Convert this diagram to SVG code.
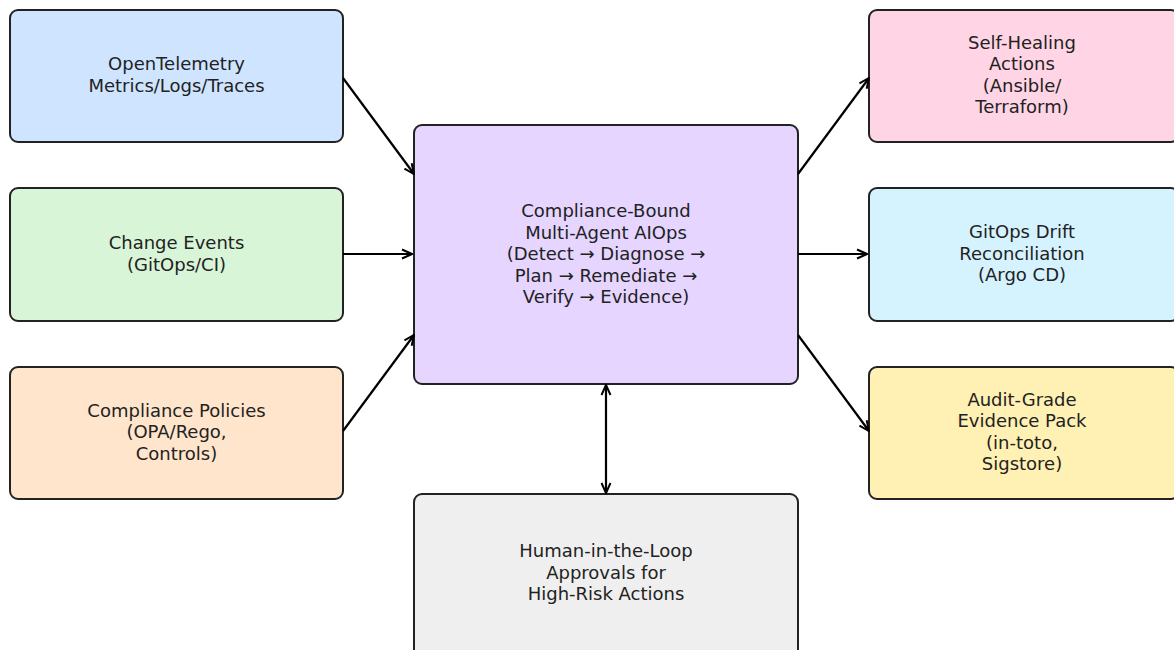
<svg xmlns="http://www.w3.org/2000/svg" width="1174" height="650" viewBox="0 0 1174 650">
<style>
.box{stroke:#222;stroke-width:2;}
.t{font-family:"DejaVu Sans",sans-serif;font-size:18px;fill:#222;text-anchor:middle;}
.c{stroke:#000;stroke-width:2.2;fill:none;}
</style>
<defs>
<marker id="ah" viewBox="0 0 12 12" refX="11" refY="6" markerWidth="12" markerHeight="12" markerUnits="userSpaceOnUse" orient="auto-start-reverse">
<path d="M1,1.5 L11,6 L1,10.5" fill="none" stroke="#000" stroke-width="2"/>
</marker>
</defs>
<rect width="1174" height="650" fill="#fff"/>
<g id="n-otel">
<rect class="box" x="10" y="10" width="333" height="132" rx="8" fill="#cfe5ff"/>
<text class="t" x="176.5" y="70">OpenTelemetry</text>
<text class="t" x="176.5" y="91.5">Metrics/Logs/Traces</text>
</g>
<g id="n-change">
<rect class="box" x="10" y="188" width="333" height="133" rx="8" fill="#d9f5d7"/>
<text class="t" x="176.5" y="249">Change Events</text>
<text class="t" x="176.5" y="270.5">(GitOps/CI)</text>
</g>
<g id="n-policies">
<rect class="box" x="10" y="367" width="333" height="132" rx="8" fill="#ffe5cc"/>
<text class="t" x="176.5" y="416.5">Compliance Policies</text>
<text class="t" x="176.5" y="438">(OPA/Rego,</text>
<text class="t" x="176.5" y="459.5">Controls)</text>
</g>
<g id="n-core">
<rect class="box" x="414" y="125" width="384" height="259" rx="8" fill="#e5d5ff"/>
<text class="t" x="606" y="217">Compliance-Bound</text>
<text class="t" x="606" y="238.5">Multi-Agent AIOps</text>
<text class="t" x="606" y="260">(Detect → Diagnose →</text>
<text class="t" x="606" y="281.5">Plan → Remediate →</text>
<text class="t" x="606" y="303">Verify → Evidence)</text>
</g>
<g id="n-heal">
<rect class="box" x="869" y="10" width="310" height="132" rx="8" fill="#ffd5e5"/>
<text class="t" x="1022" y="48.5">Self-Healing</text>
<text class="t" x="1022" y="70">Actions</text>
<text class="t" x="1022" y="91.5">(Ansible/</text>
<text class="t" x="1022" y="113">Terraform)</text>
</g>
<g id="n-gitops">
<rect class="box" x="869" y="188" width="310" height="133" rx="8" fill="#d5f3ff"/>
<text class="t" x="1022" y="238">GitOps Drift</text>
<text class="t" x="1022" y="259.5">Reconciliation</text>
<text class="t" x="1022" y="281">(Argo CD)</text>
</g>
<g id="n-evidence">
<rect class="box" x="869" y="367" width="310" height="132" rx="8" fill="#fff0b3"/>
<text class="t" x="1022" y="405.5">Audit-Grade</text>
<text class="t" x="1022" y="427">Evidence Pack</text>
<text class="t" x="1022" y="448.5">(in-toto,</text>
<text class="t" x="1022" y="470">Sigstore)</text>
</g>
<g id="n-human">
<rect class="box" x="414" y="494" width="384" height="170" rx="8" fill="#efefef"/>
<text class="t" x="606" y="557">Human-in-the-Loop</text>
<text class="t" x="606" y="578.5">Approvals for</text>
<text class="t" x="606" y="600">High-Risk Actions</text>
</g>
<g id="connectors">
<line class="c" x1="343" y1="78" x2="414" y2="174" marker-end="url(#ah)"/>
<line class="c" x1="343" y1="254" x2="412" y2="254" marker-end="url(#ah)"/>
<line class="c" x1="343" y1="431" x2="414" y2="335" marker-end="url(#ah)"/>
<line class="c" x1="798" y1="174" x2="869" y2="78" marker-end="url(#ah)"/>
<line class="c" x1="798" y1="254" x2="867" y2="254" marker-end="url(#ah)"/>
<line class="c" x1="798" y1="335" x2="869" y2="431" marker-end="url(#ah)"/>
<line class="c" x1="606" y1="385" x2="606" y2="493" marker-start="url(#ah)" marker-end="url(#ah)"/>
</g>
</svg>
